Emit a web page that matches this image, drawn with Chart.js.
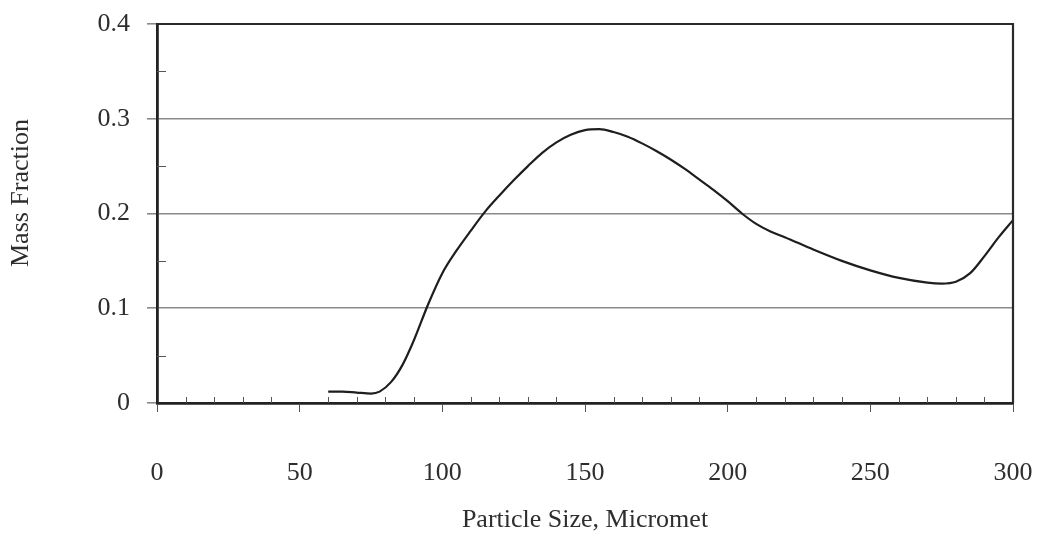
<!DOCTYPE html>
<html>
<head>
<meta charset="utf-8">
<script src="https://cdn.jsdelivr.net/npm/chart.js@4.4.1/dist/chart.umd.min.js"></script>
<style>
  html, body { margin: 0; padding: 0; background: #ffffff; }
  #wrap { width: 1037px; height: 536px; position: relative; }
</style>
</head>
<body>
<div id="wrap"><canvas id="c" width="1037" height="536"></canvas></div>
<script>
// Particle size (micrometres)
const particleSize = [60, 65, 70, 75, 78, 82, 86, 90, 95, 100, 105, 110, 115, 120, 125, 130, 135, 140, 145, 150, 155, 160, 165, 170, 175, 180, 185, 190, 195, 200, 205, 210, 215, 220, 230, 240, 250, 260, 270, 275, 280, 285, 290, 295, 300];
// Mass fraction
const massFraction = [0.012, 0.012, 0.011, 0.010, 0.012, 0.022, 0.040, 0.066, 0.104, 0.137, 0.161, 0.182, 0.202, 0.219, 0.235, 0.250, 0.264, 0.275, 0.283, 0.288, 0.289, 0.286, 0.281, 0.274, 0.266, 0.257, 0.247, 0.236, 0.225, 0.213, 0.200, 0.189, 0.181, 0.175, 0.162, 0.150, 0.140, 0.132, 0.127, 0.126, 0.128, 0.137, 0.155, 0.175, 0.193];
// Tick values
const xTicks = [0, 50, 100, 150, 200, 250, 300];
const yTicks = [0, 0.1, 0.2, 0.3, 0.4];
const xMinorTicks = [10, 20, 30, 40, 60, 70, 80, 90, 110, 120, 130, 140, 160, 170, 180, 190, 210, 220, 230, 240, 260, 270, 280, 290];
const yMinorTicks = [0.05, 0.15, 0.25, 0.35];
const xTitle = 'Particle Size, Micromet';
const yTitle = 'Mass Fraction';

const points = particleSize.map((x, i) => ({ x: x, y: massFraction[i] }));
const FONT = '"Liberation Serif", "DejaVu Serif", serif';
const TEXT = '#2e2e2e';

const framePlugin = {
  id: 'frame',
  afterDraw(chart) {
    const ctx = chart.ctx;
    const a = chart.chartArea;
    const xs = chart.scales.x, ys = chart.scales.y;
    ctx.save();
    ctx.strokeStyle = '#2a2a2a';
    // top and right borders
    ctx.lineWidth = 2.2;
    ctx.beginPath();
    ctx.moveTo(a.left, a.top); ctx.lineTo(a.right, a.top); ctx.lineTo(a.right, a.bottom);
    ctx.stroke();
    // minor ticks inside
    ctx.lineWidth = 1;
    ctx.strokeStyle = '#555';
    ctx.beginPath();
    xMinorTicks.forEach(v => {
      const px = Math.round(xs.getPixelForValue(v)) + 0.5;
      ctx.moveTo(px, a.bottom); ctx.lineTo(px, a.bottom - 6);
    });
    yMinorTicks.forEach(v => {
      const py = Math.round(ys.getPixelForValue(v)) + 0.5;
      ctx.moveTo(a.left, py); ctx.lineTo(a.left + 9, py);
    });
    ctx.stroke();
    // y axis title, placed as in the reference (slightly above centre)
    ctx.fillStyle = TEXT;
    ctx.font = '26px ' + FONT;
    ctx.textAlign = 'center';
    ctx.textBaseline = 'middle';
    ctx.translate(21, 193);
    ctx.rotate(-Math.PI / 2);
    ctx.fillText(yTitle, 0, 0);
    ctx.restore();
  }
};

new Chart(document.getElementById('c'), {
  type: 'line',
  data: {
    datasets: [{
      data: points,
      borderColor: '#1e1e1e',
      borderWidth: 2.2,
      pointRadius: 0,
      tension: 0.4,
      cubicInterpolationMode: 'monotone',
      fill: false
    }]
  },
  options: {
    responsive: false,
    animation: false,
    devicePixelRatio: 1,
    layout: { padding: { top: 24, right: 24, left: 0, bottom: 0 } },
    plugins: { legend: { display: false }, tooltip: { enabled: false } },
    scales: {
      x: {
        type: 'linear',
        min: 0, max: 300,
        afterBuildTicks(s) { s.ticks = xTicks.map(v => ({ value: v })); },
        afterFit(s) { s.height = 133; s.paddingLeft = 0; s.paddingRight = 0; },
        ticks: {
          font: { family: FONT, size: 26 },
          color: TEXT,
          padding: 46,
          maxRotation: 0,
          autoSkip: false
        },
        grid: {
          drawOnChartArea: false,
          drawTicks: true,
          tickLength: 9,
          color: '#555',
          lineWidth: 1
        },
        border: { display: true, color: '#222', width: 2.8 },
        title: {
          display: true,
          text: xTitle,
          font: { family: FONT, size: 26 },
          color: TEXT,
          padding: { top: 0, bottom: 0 }
        }
      },
      y: {
        type: 'linear',
        min: 0, max: 0.4,
        afterBuildTicks(s) { s.ticks = yTicks.map(v => ({ value: v })); },
        afterFit(s) { s.width = 157; s.paddingTop = 0; s.paddingBottom = 0; },
        ticks: {
          font: { family: FONT, size: 26 },
          color: TEXT,
          padding: 17,
          callback: v => String(v)
        },
        grid: {
          drawOnChartArea: true,
          drawTicks: true,
          tickLength: 10,
          color: '#8a8a8a',
          lineWidth: 1.6
        },
        border: { display: true, color: '#222', width: 2.8 },
        title: { display: false }
      }
    }
  },
  plugins: [framePlugin]
});
</script>
</body>
</html>
